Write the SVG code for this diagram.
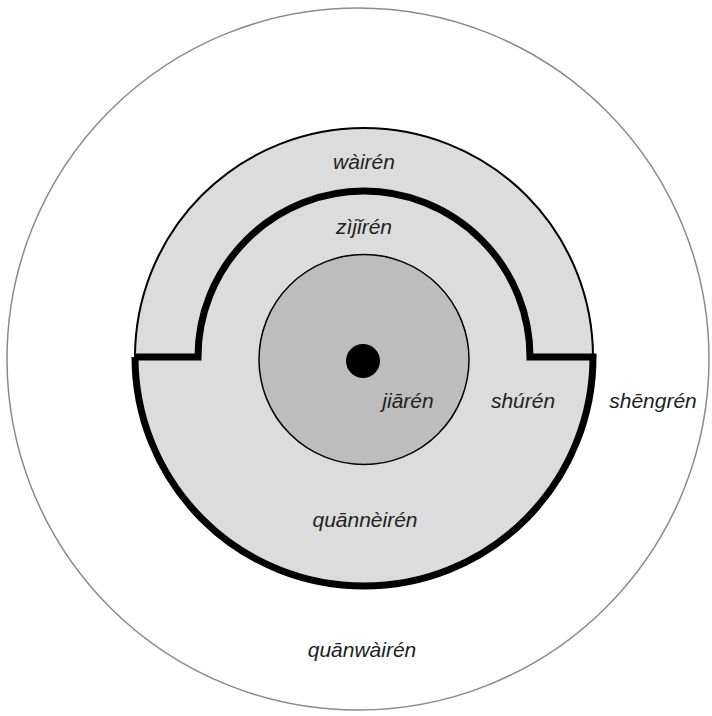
<svg xmlns="http://www.w3.org/2000/svg" width="712" height="716" viewBox="0 0 712 716">
<style>
.lbl{font-family:"Liberation Sans",Arial,sans-serif;font-style:italic;font-size:21px;fill:#222;text-anchor:middle}
</style>
<rect width="712" height="716" fill="#fff"/>
<g id="quanwairen">
<circle cx="358" cy="359" r="351" fill="#fff" stroke="#8a8a8a" stroke-width="1.5"/>
<text class="lbl" x="362" y="657">quānwàirén</text>
</g>
<g id="shengren">
<text class="lbl" x="653" y="408">shēngrén</text>
</g>
<g id="quanneiren">
<circle cx="364" cy="357" r="229" fill="#dcdcdc" stroke="#000" stroke-width="2"/>
<text class="lbl" x="365" y="527">quānnèirén</text>
</g>
<g id="wairen">
<text class="lbl" x="364" y="169">wàirén</text>
</g>
<g id="zijiren">
<text class="lbl" x="364" y="234">zìjǐrén</text>
</g>
<g id="shuren">
<text class="lbl" x="523" y="408">shúrén</text>
</g>
<g id="jiaren">
<circle cx="364" cy="359.5" r="105" fill="#bdbdbd" stroke="#000" stroke-width="1.5"/>
<text class="lbl" x="408" y="408">jiārén</text>
</g>
<g id="self">
<circle cx="363" cy="361" r="17" fill="#000"/>
</g>
<g id="connectors">
<path d="M135 357 L198 357 A166 166 0 0 1 530 357 L593 357 A229 229 0 0 1 135 357" fill="none" stroke="#000" stroke-width="7" stroke-linejoin="miter"/>
</g>
</svg>
